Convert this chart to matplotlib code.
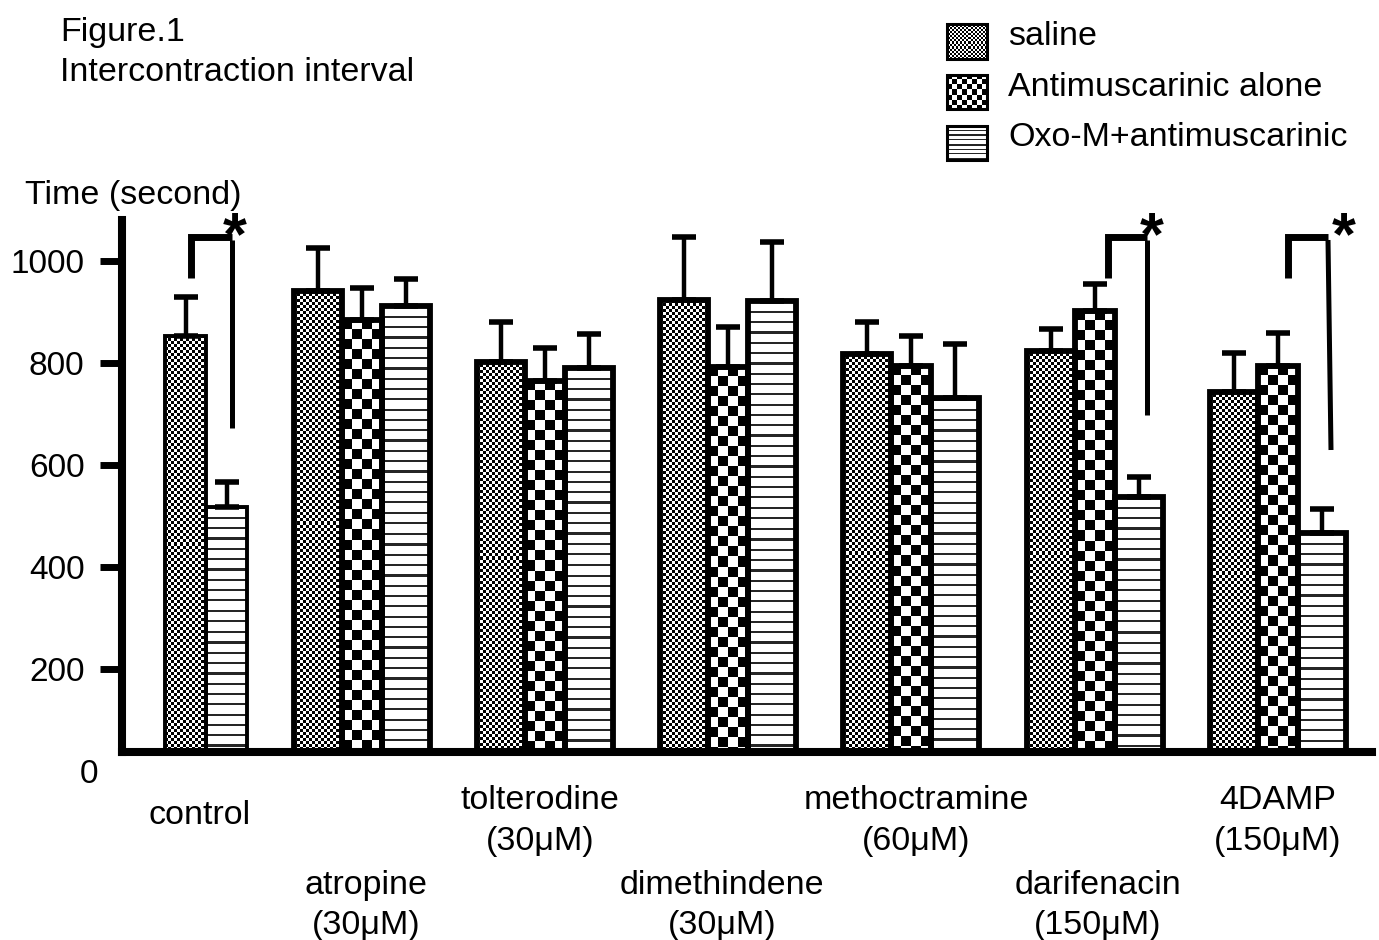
import numpy as np
import matplotlib
matplotlib.use("Agg")
import matplotlib.pyplot as plt
from matplotlib.legend_handler import HandlerBase
from matplotlib.image import BboxImage
from matplotlib.transforms import Bbox, TransformedBbox, blended_transform_factory
from matplotlib.patches import Rectangle
from matplotlib.colors import Normalize

plt.rcParams['font.family'] = ['Liberation Sans', 'DejaVu Sans']

# ---------------- data ----------------
groups = ["control", "atropine", "tolterodine", "dimethindene",
          "methoctramine", "darifenacin", "4DAMP"]
doses = ["", "(30μM)", "(30μM)", "(30μM)", "(60μM)", "(150μM)", "(150μM)"]
series = ["saline", "Antimuscarinic alone", "Oxo-M+antimuscarinic"]
saline_mean = [853, 941, 802, 923, 818, 824, 743]
saline_err = [76, 84, 78, 124, 62, 43, 77]
alone_mean = [np.nan, 884, 765, 792, 794, 902, 794]
alone_err = [np.nan, 63, 64, 79, 59, 53, 65]
oxo_mean = [518, 912, 790, 922, 731, 537, 467]
oxo_err = [49, 53, 67, 115, 106, 39, 47]
significant = [True, False, False, False, False, True, True]
yticks = [200, 400, 600, 800, 1000]

# ---------------- layout ----------------
DPI = 100
W_PX, H_PX = 1379, 940
AX_L, AX_R, AX_T, AX_B = 122, 1372, 220, 752   # pixel box of axes
YLO, YHI = 37, 1080

def py2v(py):
    return YHI - (py - AX_T) * (YHI - YLO) / (AX_B - AX_T)

group_x = [206, 361.5, 545, 727.5, 911, 1095, 1278]
label_x = [200, 366, 540, 722, 916, 1098, 1278]
three_off = [-44, 0, 44]
three_w = [48, 40, 48]
two_off = [-20.5, None, 20.5]
two_w = [41, None, 41]
label_row = [0, 2, 1, 2, 1, 2, 1]     # staggered label rows
FS = 24.5

fig = plt.figure(figsize=(W_PX / DPI, H_PX / DPI), dpi=DPI)
ax = fig.add_axes([AX_L / W_PX, 1 - AX_B / H_PX,
                   (AX_R - AX_L) / W_PX, (AX_B - AX_T) / H_PX])


def texture(kind, h, w, s=1.0):
    i = np.arange(h)[:, None].astype(float)
    j = np.arange(w)[None, :].astype(float)
    if kind == "fine":
        c = 3.0 * s
        return ((np.floor(i / c) + np.floor(j / c)) % 2) * np.ones((h, w))
    if kind == "coarse":
        c = 10.0 * s
        return ((np.floor(i / c) + np.floor(j / c)) % 2) * np.ones((h, w))
    p = 10.3 * s
    t = max(1.3, 2.2 * s)
    arr = np.where((i % p) < t, 0.15, 1.0) * np.ones((h, w))
    return arr


kinds = ["fine", "coarse", "stripe"]
means = [saline_mean, alone_mean, oxo_mean]
errs = [saline_err, alone_err, oxo_err]
containers = []
for s_idx in range(3):
    xs, ws, hs, es, lws = [], [], [], [], []
    for g in range(len(groups)):
        two = np.isnan(alone_mean[g])
        off = (two_off if two else three_off)[s_idx]
        wd = (two_w if two else three_w)[s_idx]
        if off is None:
            xs.append(group_x[g]); ws.append(0); hs.append(np.nan); es.append(np.nan)
            lws.append(0)
            continue
        xs.append(group_x[g] + off); ws.append(wd)
        hs.append(means[s_idx][g]); es.append(errs[s_idx][g])
        lws.append(2.8 if two else 4.2)
    # error bars (upper only)
    ax.errorbar(xs, hs, yerr=[np.zeros(len(es)), es], fmt="none", ecolor="black",
                elinewidth=3.2, capsize=8.5, capthick=4.0, zorder=2.5)
    bars = ax.bar(xs, hs, width=ws, facecolor="none", edgecolor="black",
                  linewidth=lws, zorder=3, label=series[s_idx])
    containers.append(bars)
    for x, wd, h in zip(xs, ws, hs):
        if not np.isfinite(h) or wd == 0:
            continue
        hpx = int(round((h - YLO) * (AX_B - AX_T) / (YHI - YLO)))
        wpx = int(round(wd))
        arr = texture(kinds[s_idx], hpx, wpx)
        ax.imshow(arr, extent=(x - wd / 2, x + wd / 2, YLO, h), cmap="gray",
                  vmin=0, vmax=1, interpolation="nearest", aspect="auto", zorder=2)

ax.set_xlim(AX_L, AX_R)
ax.set_ylim(YLO, YHI)
ax.set_yticks(yticks)
ax.set_yticklabels([str(t) for t in yticks])
ax.set_xticks([])
for sp in ("top", "right"):
    ax.spines[sp].set_visible(False)
for sp in ("left", "bottom"):
    ax.spines[sp].set_linewidth(5.8)
ax.tick_params(axis="y", length=16, width=5, pad=11, labelsize=24, direction="out")
ax.text(98, 0, "0", ha="right", va="center_baseline", fontsize=24, clip_on=False)

# x labels (staggered rows)
tr = blended_transform_factory(ax.transData, fig.transFigure)
row_base = {0: (824, None), 1: (809, 850), 2: (894, 934)}
for g, name in enumerate(groups):
    b1, b2 = row_base[label_row[g]]
    ax.text(label_x[g], 1 - b1 / H_PX, name, transform=tr, ha="center",
            va="baseline", fontsize=FS, clip_on=False)
    if doses[g]:
        ax.text(label_x[g], 1 - b2 / H_PX, doses[g], transform=tr, ha="center",
                va="baseline", fontsize=FS, clip_on=False)

# significance brackets
bracket_px = {0: (191, 232, 232, 278, 237, 428, 235),
              5: (1108, 1147, 1147, 278, 237, 415, 1152),
              6: (1288, 1328, 1331, 278, 237, 450, 1344)}
for g, sig in enumerate(significant):
    if not sig:
        continue
    xl, xr, xr2, yl, yt, yb, xa = bracket_px[g]
    ax.plot([xl, xl, xr], [py2v(yl), py2v(yt), py2v(yt)], color="black", lw=5,
            solid_capstyle="butt", solid_joinstyle="miter", clip_on=False, zorder=4)
    ax.plot([xr, xr2], [py2v(yt + 3), py2v(yb)], color="black", lw=3.6,
            solid_capstyle="butt", clip_on=False, zorder=4)
    ax.text(xa, py2v(254), "*", ha="center", va="baseline", fontsize=44,
            fontweight="bold", clip_on=False)

# titles
fig.text(60 / W_PX, 1 - 41 / H_PX, "Figure.1", fontsize=FS, va="baseline", ha="left")
fig.text(60 / W_PX, 1 - 81 / H_PX, "Intercontraction interval", fontsize=FS,
         va="baseline", ha="left")
fig.text(25 / W_PX, 1 - 204 / H_PX, "Time (second)", fontsize=FS, va="baseline",
         ha="left")


# legend with textured swatches
class TextureHandler(HandlerBase):
    def __init__(self, kind, scale, shift=6.0):
        super().__init__()
        self.kind = kind
        self.scale = scale
        self.shift = shift

    def create_artists(self, legend, orig_handle, xdescent, ydescent, width,
                       height, fontsize, trans):
        x0, y0 = -xdescent, -ydescent - self.shift
        bb = TransformedBbox(Bbox.from_bounds(x0, y0, width, height), trans)
        img = BboxImage(bb, cmap="gray", norm=Normalize(0, 1),
                        interpolation="nearest", origin="upper")
        wpx = int(round(width * DPI / 72))
        hpx = int(round(height * DPI / 72))
        img.set_data(texture(self.kind, hpx, wpx, self.scale))
        rect = Rectangle((x0, y0), width, height, facecolor="none",
                         edgecolor="black", lw=2.2, transform=trans)
        return [img, rect]


hmap = {containers[0]: TextureHandler("fine", 0.7),
        containers[1]: TextureHandler("coarse", 0.5),
        containers[2]: TextureHandler("stripe", 0.43)}
fig.legend(handles=containers, labels=series, loc="upper left",
           bbox_to_anchor=(947 / W_PX, 1 - 16 / H_PX), bbox_transform=fig.transFigure,
           frameon=False, fontsize=FS, handlelength=1.17, handleheight=1.17,
           handletextpad=0.62, labelspacing=0.45, borderpad=0, borderaxespad=0,
           handler_map=hmap)

fig.savefig("out.png", dpi=DPI)
